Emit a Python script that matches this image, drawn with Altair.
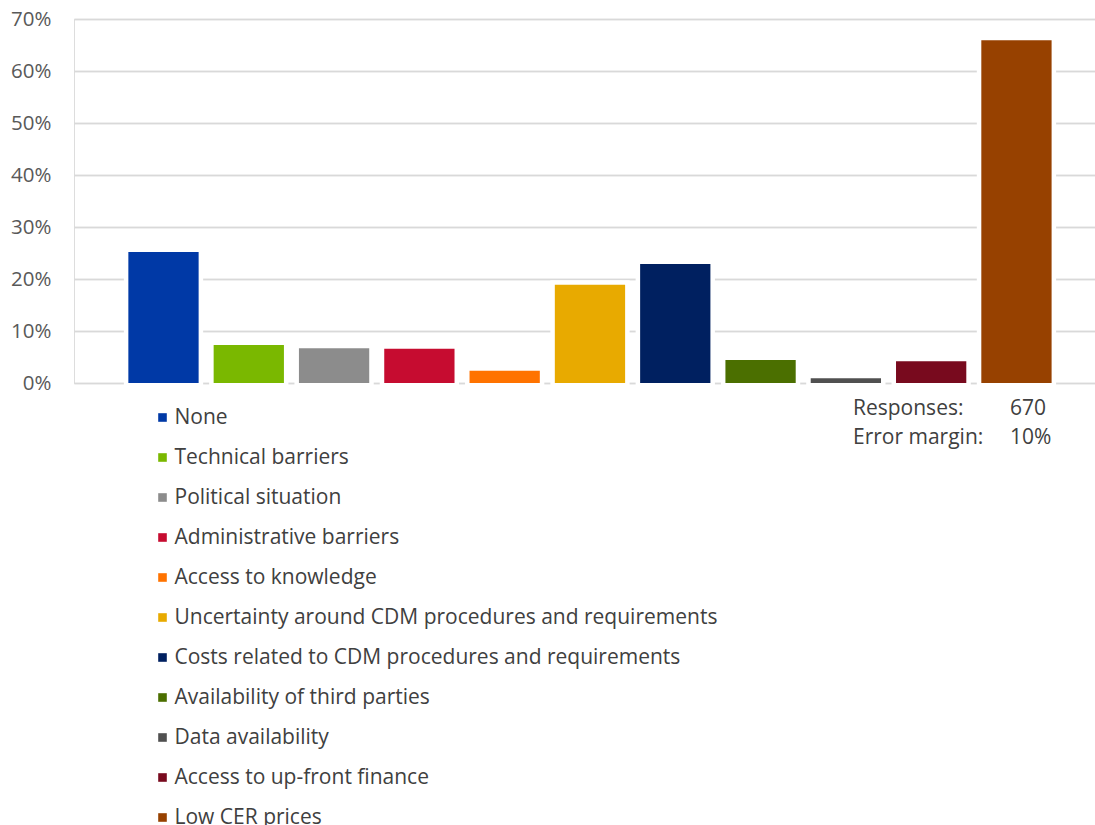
import altair as alt
import pandas as pd

categories = [
    "None",
    "Technical barriers",
    "Political situation",
    "Administrative barriers",
    "Access to knowledge",
    "Uncertainty around CDM procedures and requirements",
    "Costs related to CDM procedures and requirements",
    "Availability of third parties",
    "Data availability",
    "Access to up-front finance",
    "Low CER prices",
]
values = [0.252, 0.073, 0.067, 0.066, 0.0235, 0.189, 0.229, 0.044, 0.009, 0.042, 0.659]
colors = ["#0039A6", "#7AB800", "#8C8C8C", "#C60C30", "#FF7300", "#E8AA00",
          "#002060", "#4B6F00", "#505050", "#780A1E", "#974100"]
y_ticks = [0, 0.1, 0.2, 0.3, 0.4, 0.5, 0.6, 0.7]
note_labels = ["Responses:", "Error margin:"]
note_values = ["670", "10%"]

df = pd.DataFrame({"cat": categories, "val": values})

FONT = "Open Sans"

x = alt.X("cat:N", sort=categories, axis=None,
          scale=alt.Scale(paddingInner=0.176, paddingOuter=0.573, align=0.556))
y = alt.Y("val:Q",
          scale=alt.Scale(domain=[0, 0.7], nice=False),
          axis=alt.Axis(values=y_ticks, format=".0%", title=None, domain=False,
                        ticks=False, grid=True, gridColor="#D9D9D9", gridWidth=1.5,
                        labelFont=FONT, labelFontSize=20.5, labelColor="#595959",
                        labelPadding=23))

white = alt.Chart(df).mark_bar(color="white", stroke="white", strokeWidth=9).encode(x=x, y=y)

bars = alt.Chart(df).mark_bar().encode(
    x=x, y=y,
    color=alt.Color("cat:N", sort=categories,
                    scale=alt.Scale(domain=categories, range=colors),
                    legend=alt.Legend(orient="none", legendX=78, legendY=388,
                                      title=None, symbolType="square", symbolSize=74,
                                      symbolStrokeWidth=0, labelFont=FONT,
                                      labelFontSize=21, labelColor="#404040",
                                      labelOffset=1.5, rowPadding=18, padding=0,
                                      labelLimit=800)),
)

notes = pd.DataFrame({"lab": note_labels, "v": note_values, "row": [0, 1]})
row_y = alt.Y("row:Q", axis=None,
              scale=alt.Scale(domain=[0, 1], range=[396, 425], nice=False, zero=False))
note_lab = alt.Chart(notes).mark_text(align="left", baseline="alphabetic", font=FONT,
                                      fontSize=21, color="#404040").encode(
    x=alt.value(779), y=row_y, text="lab:N")
note_val = alt.Chart(notes).mark_text(align="left", baseline="alphabetic", font=FONT,
                                      fontSize=21, color="#404040").encode(
    x=alt.value(936), y=row_y, text="v:N")

chart = alt.layer(white, bars, note_lab, note_val).resolve_scale(y="independent").properties(
    width=1021, height=364,
    autosize=alt.AutoSizeParams(type="none"),
    padding={"left": 74, "top": 19, "right": 0, "bottom": 442},
).configure_view(stroke=None).configure(background="white")

chart.save("out.html", embed_options={"renderer": "svg", "actions": False})
